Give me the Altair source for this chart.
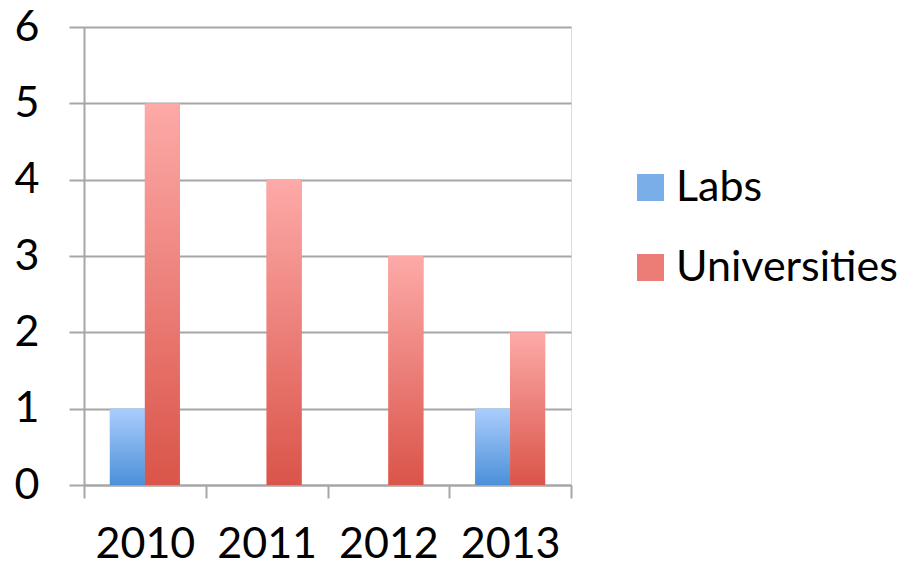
import altair as alt
import pandas as pd

years = ["2010", "2011", "2012", "2013"]
labs = [1, 0, 0, 1]
universities = [5, 4, 3, 2]
series = ["Labs", "Universities"]

rows = []
for i, y in enumerate(years):
    rows.append({"year": y, "series": "Labs", "value": labs[i]})
    rows.append({"year": y, "series": "Universities", "value": universities[i]})
df = pd.DataFrame(rows)

FONT = "Lato"
GRAY = "#a6a6a6"

blue_grad = alt.LinearGradient(
    gradient="linear", x1=0, x2=0, y1=0, y2=1,
    stops=[alt.GradientStop(color="#abcdfd", offset=0),
           alt.GradientStop(color="#4b90d8", offset=1)])
red_grad = alt.LinearGradient(
    gradient="linear", x1=0, x2=0, y1=0, y2=1,
    stops=[alt.GradientStop(color="#fdaaa8", offset=0),
           alt.GradientStop(color="#da5449", offset=1)])

x_enc = alt.X("year:N", sort=years, title=None,
              scale=alt.Scale(paddingInner=0, paddingOuter=0),
              axis=alt.Axis(labelAngle=0, tickBand="extent", labelFont=FONT,
                            labelFontSize=43, labelColor="black", labelPadding=25,
                            tickSize=13, tickColor=GRAY, tickWidth=2,
                            domainColor=GRAY, domainWidth=2, grid=False))
xo_enc = alt.XOffset("series:N", sort=series,
                     scale=alt.Scale(paddingInner=0, paddingOuter=0.739))
y_enc = alt.Y("value:Q", title=None,
              scale=alt.Scale(domain=[0, 6], nice=False),
              axis=alt.Axis(values=[0, 1, 2, 3, 4, 5, 6], labelFont=FONT,
                            labelFontSize=43, labelColor="black", labelPadding=30,
                            tickSize=15, tickColor=GRAY, tickWidth=2,
                            domainColor=GRAY, domainWidth=2,
                            grid=True, gridColor=GRAY, gridWidth=2))

base = alt.Chart(df)

flat = base.mark_bar().encode(
    x=x_enc, xOffset=xo_enc, y=y_enc,
    color=alt.Color("series:N", sort=series, title=None,
                    scale=alt.Scale(domain=series, range=["#79aee9", "#ec7d76"]),
                    legend=alt.Legend(orient="none", legendX=545, legendY=139,
                                      symbolType="square", symbolSize=729,
                                      symbolStrokeWidth=0, symbolOpacity=1,
                                      labelFont=FONT,
                                      labelFontSize=43, labelColor="black",
                                      labelOffset=4, rowPadding=36,
                                      labelLimit=400)),
)

grad = base.mark_bar().encode(
    x=x_enc, xOffset=xo_enc, y=y_enc,
    fill=alt.condition(alt.datum.series == "Labs", alt.value(blue_grad), alt.value(red_grad)),
)

chart = alt.layer(flat, grad).properties(
    width=487, height=458,
    autosize=alt.AutoSizeParams(type="none"),
    padding={"left": 84, "top": 27, "right": 336, "bottom": 81},
).configure_view(stroke=None).configure(background="white")

chart.save("out.html", embed_options={"renderer": "svg", "actions": False})
